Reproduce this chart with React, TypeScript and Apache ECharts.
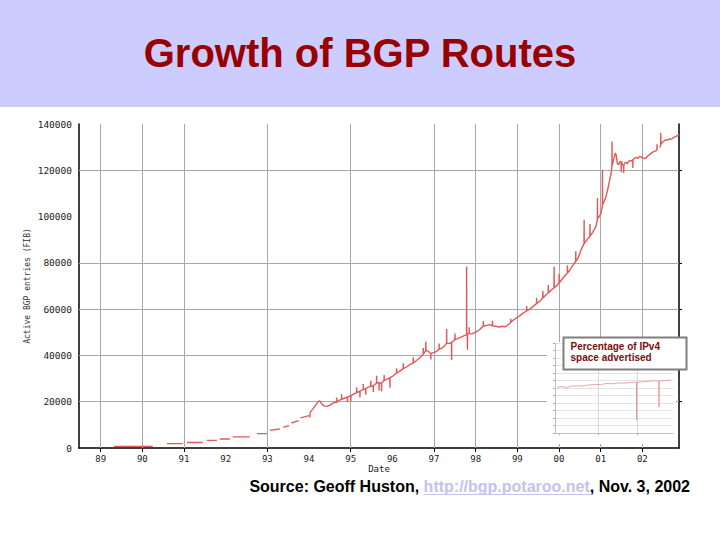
import React, { useEffect, useRef } from "react";
import * as echarts from "echarts";

const chartTitle = "Growth of BGP Routes";
const yAxisTitle = "Active BGP entries (FIB)";
const xAxisTitle = "Date";
const insetCaption = ["Percentage of IPv4", "space advertised"];
const sourceParts = ["Source: Geoff Huston, ", "http://bgp.potaroo.net", ", Nov. 3, 2002"];

const yearLabels = [1989, 1990, 1991, 1992, 1993, 1994, 1995, 1996, 1997, 1998, 1999, 2000, 2001, 2002];
const gridYears = [1989, 1990, 1991, 1993, 1995, 1997, 1998, 1999, 2000, 2001, 2002];
const gridValues = [20000, 40000, 60000, 80000, 120000];

// Active BGP entries over time (decimal year, FIB entries); null = gap in the record
const dates = [
  1989.32, 1990.25, 1990.26, 1990.59, 1990.97, 1990.98, 1991.07, 1991.45, 1991.47, 1991.55, 1991.79, 1991.81,
  1991.86, 1992.10, 1992.12, 1992.17, 1992.58, 1992.62, 1992.75, 1992.99, 1993.02, 1993.06, 1993.30, 1993.33,
  1993.38, 1993.52, 1993.55, 1993.58, 1993.75, 1993.77, 1993.80, 1994.00, 1994.01,
  1994.02, 1994.03, 1994.10, 1994.16, 1994.22, 1994.26, 1994.31, 1994.36, 1994.44, 1994.50, 1994.56, 1994.62,
  1994.66, 1994.663, 1994.666, 1994.72, 1994.78, 1994.783, 1994.786, 1994.86, 1994.92, 1994.923, 1994.926,
  1995.00, 1995.003, 1995.006, 1995.08, 1995.14, 1995.143, 1995.146, 1995.22, 1995.223, 1995.226, 1995.30,
  1995.303, 1995.306, 1995.36, 1995.363, 1995.366, 1995.42, 1995.48, 1995.483, 1995.486, 1995.54, 1995.543,
  1995.546, 1995.62, 1995.623, 1995.626, 1995.68, 1995.683, 1995.686, 1995.74, 1995.743, 1995.746, 1995.80,
  1995.803, 1995.806, 1995.88, 1995.94, 1995.943, 1995.946, 1996.02, 1996.10, 1996.103, 1996.106, 1996.18,
  1996.26, 1996.263, 1996.266, 1996.34, 1996.42, 1996.50, 1996.503, 1996.506, 1996.58, 1996.66, 1996.74,
  1996.743, 1996.746, 1996.80, 1996.803, 1996.806, 1996.86, 1996.92, 1996.923, 1996.926, 1997.00, 1997.06,
  1997.12, 1997.123, 1997.126, 1997.20, 1997.26, 1997.30, 1997.303, 1997.306, 1997.36, 1997.42, 1997.423,
  1997.426, 1997.50, 1997.503, 1997.506, 1997.58, 1997.64, 1997.70, 1997.76, 1997.78, 1997.783, 1997.786,
  1997.80, 1997.803, 1997.806, 1997.84, 1997.843, 1997.846, 1997.90, 1997.96, 1998.02, 1998.08, 1998.14,
  1998.18, 1998.183, 1998.186, 1998.26, 1998.34, 1998.40, 1998.403, 1998.406, 1998.48, 1998.56, 1998.64,
  1998.70, 1998.74, 1998.80, 1998.84, 1998.843, 1998.846, 1998.90, 1998.98, 1999.06, 1999.14, 1999.22,
  1999.223, 1999.226, 1999.30, 1999.38, 1999.46, 1999.463, 1999.466, 1999.54, 1999.61, 1999.613, 1999.616,
  1999.68, 1999.74, 1999.743, 1999.746, 1999.80, 1999.86, 1999.88, 1999.883, 1999.886, 1999.94, 2000.00,
  2000.003, 2000.006, 2000.06, 2000.13, 2000.20, 2000.203, 2000.206, 2000.25, 2000.30, 2000.35, 2000.40,
  2000.403, 2000.406, 2000.45, 2000.50, 2000.53, 2000.56, 2000.60, 2000.603, 2000.606, 2000.66, 2000.70,
  2000.74, 2000.743, 2000.746, 2000.80, 2000.85, 2000.89, 2000.92, 2000.923, 2000.926, 2000.97, 2001.01,
  2001.04, 2001.043, 2001.046, 2001.09, 2001.13, 2001.17, 2001.21, 2001.25, 2001.27, 2001.273, 2001.276,
  2001.31, 2001.35, 2001.37, 2001.40, 2001.43, 2001.46, 2001.49, 2001.493, 2001.496, 2001.52, 2001.55,
  2001.553, 2001.556, 2001.58, 2001.61, 2001.64, 2001.67, 2001.70, 2001.74, 2001.77, 2001.773, 2001.776,
  2001.81, 2001.85, 2001.89, 2001.93, 2001.97, 2002.01, 2002.05, 2002.09, 2002.13, 2002.17, 2002.21, 2002.25,
  2002.29, 2002.33, 2002.35, 2002.353, 2002.356, 2002.37, 2002.38, 2002.42, 2002.44, 2002.443, 2002.446,
  2002.49, 2002.53, 2002.57, 2002.61, 2002.65, 2002.69, 2002.73, 2002.77, 2002.81, 2002.85, 2002.88,
];
const routes = [
  700, 700, null, 1900, 1900, null, 2400, 2400, null, 3300, 3300, null,
  3900, 3900, null, 4800, 4800, null, 6200, 6200, null, 7600, 8200, null,
  9000, 9600, null, 10800, 11800, null, 13000, 14000, null,
  13200, 15500, 17000, 18500, 20000, 20300, 19000, 18200, 18000, 18500, 19200, 19800,
  19600, 21800, 19700, 20600, 21000, 23200, 21000, 21600, 22000, 19800, 22000,
  22600, 20200, 22600, 23400, 23800, 26200, 23900, 24600, 21800, 24600, 25200,
  27600, 25300, 25700, 23000, 25700, 26300, 26500, 29000, 26500, 27000, 24200,
  27000, 28000, 31200, 28000, 28300, 24800, 28300, 27800, 24500, 28200, 29200,
  31500, 29200, 29800, 30400, 26000, 30400, 31200, 32400, 34500, 32400, 33200,
  34300, 36600, 34300, 35000, 36000, 36700, 39200, 36800, 37800, 39000, 40500,
  43200, 40600, 42000, 46000, 42300, 41800, 40800, 38200, 40900, 41300, 41700,
  42600, 45200, 42700, 43300, 44200, 45200, 51400, 45300, 45200, 45600, 38000,
  45700, 46800, 49500, 46800, 47400, 47800, 48300, 48800, 49000, 78400, 49000,
  48600, 42500, 49100, 49500, 52200, 49400, 49300, 49700, 50200, 51000, 51900,
  52500, 54900, 52600, 53000, 53300, 52800, 55000, 52800, 52600, 52300, 52600,
  52400, 52700, 53600, 54200, 55800, 54300, 55200, 56200, 57200, 58300, 59200,
  61400, 59300, 60000, 61200, 62400, 64800, 62500, 63400, 64800, 67800, 64900,
  66000, 67000, 70400, 67100, 68000, 68900, 69200, 78400, 69300, 70000, 71300,
  75200, 71400, 72600, 74200, 75600, 79000, 75700, 76500, 78000, 79400, 80600,
  85000, 80700, 81800, 84000, 85600, 86800, 88200, 98600, 88300, 89600, 90600,
  91400, 96800, 91500, 93000, 94500, 96000, 98800, 108000, 99000, 100200, 101500,
  104600, 120200, 105000, 106800, 108800, 111800, 115200, 118800, 121500, 132400, 122000,
  124500, 127400, 126800, 123000, 122400, 123600, 123900, 119200, 123900, 122600, 121800,
  118800, 122200, 123200, 123400, 122800, 123900, 124200, 124000, 124600, 121000, 124600,
  125200, 125600, 125100, 126000, 125800, 125400, 125000, 125300, 126200, 126600, 127400, 127800,
  128200, 128500, 128900, 131200, 128900, 128900, null, 129800, 131000, 136100, 131200,
  132200, 132800, 133200, 133000, 133600, 133400, 133900, 134300, 134700, 135100, 135400,
];

// Inset: percentage of IPv4 space advertised
const insetYears = [
  1999.95, 2000.1, 2000.2, 2000.3, 2000.45, 2000.6, 2000.75, 2000.9, 2001.05, 2001.2, 2001.35, 2001.5,
  2001.65, 2001.8, 2001.97, 2001.975, 2001.98, 2002.15, 2002.3, 2002.45, 2002.54, 2002.545, 2002.55,
  2002.7, 2002.85,
];
const insetPercent = [
  30.5, 31.0, 30.3, 31.2, 31.5, 31.3, 32.0, 32.4, 32.2, 33.0, 32.8, 33.4,
  33.2, 33.6, 33.9, 8.7, 33.9, 34.2, 34.5, 34.8, 34.6, 17.3, 34.6,
  35.0, 35.3,
];
const insetGridYears = [2001, 2002];
const insetTickYears = [2000, 2001, 2002];

const MONO = "DejaVu Sans Mono";
const SANS = '"Liberation Sans", Arial, sans-serif';

function measure(text: string, font: string): number {
  const c = document.createElement("canvas").getContext("2d");
  if (!c) return text.length * 8;
  c.font = font;
  return c.measureText(text).width;
}

export default function App() {
  const ref = useRef<HTMLDivElement>(null);
  useEffect(() => {
    if (!ref.current) return;
    const chart = echarts.init(ref.current, undefined, { renderer: "svg" });

    const mainData = dates.map((d, i) => [d, routes[i] == null ? "-" : routes[i]]);
    const insetData = insetYears.map((d, i) => [d, insetPercent[i]]);

    const srcFont = 'bold 16px "Liberation Sans"';
    const w3 = measure(sourceParts[2], srcFont);
    const w2 = measure(sourceParts[1], srcFont);
    const srcRight = 690;
    const srcY = 486;

    const option: any = {
      animation: false,
      backgroundColor: "#ffffff",
      grid: [
        { left: 79, right: 41, top: 124, bottom: 92, show: false },
        { left: 555, right: 47, top: 343, bottom: 107, show: false },
      ],
      xAxis: [
        {
          gridIndex: 0,
          type: "value",
          min: 1988.48,
          max: 2002.88,
          position: "bottom",
          axisLine: { show: true, onZero: false, lineStyle: { color: "#000", width: 1.5 } },
          axisTick: { show: true, inside: true, length: 3, customValues: gridYears, lineStyle: { color: "#000" } },
          axisLabel: {
            customValues: yearLabels,
            formatter: (v: number) => String(Math.round(v) % 100).padStart(2, "0"),
            fontFamily: MONO,
            fontSize: 9,
            color: "#222",
            margin: 6,
          },
          splitLine: { show: false },
          name: xAxisTitle,
          nameLocation: "middle",
          nameGap: 16,
          nameMoveOverlap: false,
          nameTextStyle: { fontFamily: MONO, fontSize: 9, color: "#222" },
        },
        {
          gridIndex: 0,
          type: "value",
          min: 1988.48,
          max: 2002.88,
          position: "top",
          axisLine: { show: false },
          axisTick: { show: true, inside: true, length: 4, customValues: gridYears, lineStyle: { color: "#000" } },
          axisLabel: { show: false },
          splitLine: { show: false },
        },
        {
          gridIndex: 1,
          type: "value",
          min: 1999.9,
          max: 2002.9,
          z: 10,
          axisLine: { show: true, onZero: false, lineStyle: { color: "#c4c4c4", width: 1 } },
          axisTick: { show: true, inside: false, length: 2, customValues: insetTickYears, lineStyle: { color: "#aaa" } },
          axisLabel: { show: false },
          splitLine: { show: false },
        },
      ],
      yAxis: [
        {
          gridIndex: 0,
          type: "value",
          min: 0,
          max: 140000,
          interval: 20000,
          position: "left",
          axisLine: { show: true, lineStyle: { color: "#000", width: 1.5 } },
          axisTick: { show: true, inside: true, length: 3, customValues: gridValues, lineStyle: { color: "#000" } },
          axisLabel: {
            formatter: (v: number) => String(v),
            fontFamily: MONO,
            fontSize: 9.5,
            color: "#222",
            margin: 7,
          },
          splitLine: { show: false },
          name: yAxisTitle,
          nameLocation: "middle",
          nameRotate: 90,
          nameGap: 48,
          nameMoveOverlap: false,
          nameTextStyle: { fontFamily: MONO, fontSize: 8, color: "#333" },
        },
        {
          gridIndex: 0,
          type: "value",
          min: 0,
          max: 140000,
          interval: 20000,
          position: "right",
          axisLine: { show: true, lineStyle: { color: "#000", width: 1.5 } },
          axisTick: { show: true, inside: false, length: 3, customValues: gridValues, lineStyle: { color: "#000" } },
          axisLabel: { show: false },
          splitLine: { show: false },
        },
        {
          gridIndex: 1,
          type: "value",
          min: 0,
          max: 60,
          interval: 5,
          z: 10,
          axisLine: { show: true, lineStyle: { color: "#c4c4c4", width: 1 } },
          axisTick: { show: true, length: 2, lineStyle: { color: "#aaa" } },
          axisLabel: { show: false },
          splitLine: { show: true, lineStyle: { color: "#e4e4e4", width: 1 } },
        },
      ],
      series: [
        {
          name: "gridlines",
          type: "line",
          xAxisIndex: 0,
          yAxisIndex: 0,
          data: [[1989, 0]],
          showSymbol: false,
          lineStyle: { opacity: 0 },
          silent: true,
          z: 1,
          markLine: {
            z: 1,
            silent: true,
            symbol: ["none", "none"],
            label: { show: false },
            lineStyle: { color: "#a8a8a8", width: 1, type: "solid" },
            emphasis: { disabled: true },
            data: [
              ...gridYears.map((x) => ({ xAxis: x })),
              ...gridValues.map((y) => ({ yAxis: y })),
            ],
          },
        },
        {
          name: "BGP entries",
          type: "line",
          xAxisIndex: 0,
          yAxisIndex: 0,
          data: mainData,
          showSymbol: false,
          connectNulls: false,
          lineStyle: { color: "#e35858", width: 1.4 },
          silent: true,
          z: 3,
        },
        {
          name: "IPv4 %",
          type: "line",
          xAxisIndex: 2,
          yAxisIndex: 2,
          data: insetData,
          showSymbol: false,
          lineStyle: { color: "#e39090", width: 0.8 },
          silent: true,
          z: 12,
          markLine: {
            z: 11,
            silent: true,
            symbol: ["none", "none"],
            label: { show: false },
            lineStyle: { color: "#d8d8d8", width: 1, type: "solid" },
            emphasis: { disabled: true },
            data: insetGridYears.map((x) => ({ xAxis: x })),
          },
        },
      ],
      graphic: [
        {
          type: "rect",
          shape: { x: 0, y: 0, width: 720, height: 107 },
          style: { fill: "#ccccff" },
          z: 0,
          silent: true,
        },
        {
          type: "text",
          x: 360,
          y: 53,
          style: {
            text: chartTitle,
            fill: "#990000",
            font: `bold 40px ${SANS}`,
            textAlign: "center",
            textVerticalAlign: "middle",
          },
          z: 1,
          silent: true,
        },
        {
          type: "rect",
          shape: { x: 547, y: 342, width: 129, height: 102 },
          style: { fill: "#ffffff" },
          z: 5,
          silent: true,
        },
        {
          type: "rect",
          shape: { x: 563.5, y: 337.5, width: 123, height: 32 },
          style: { fill: "#ffffff", stroke: "#7f7f7f", lineWidth: 2 },
          z: 20,
          silent: true,
        },
        {
          type: "text",
          x: 570.5,
          y: 340.5,
          style: {
            text: insetCaption.join("\n"),
            fill: "#7a0e0e",
            font: `bold 10px ${SANS}`,
            lineHeight: 11.5,
            textAlign: "left",
            textVerticalAlign: "top",
          },
          z: 21,
          silent: true,
        },
        {
          type: "text",
          x: srcRight - w3 - w2,
          y: srcY,
          style: {
            text: sourceParts[0],
            fill: "#000",
            font: `bold 16px ${SANS}`,
            textAlign: "right",
            textVerticalAlign: "middle",
          },
          z: 1,
          silent: true,
        },
        {
          type: "text",
          x: srcRight - w3,
          y: srcY,
          style: {
            text: sourceParts[1],
            fill: "#c2c2f2",
            font: `bold 16px ${SANS}`,
            textAlign: "right",
            textVerticalAlign: "middle",
          },
          z: 1,
          silent: true,
        },
        {
          type: "line",
          shape: { x1: srcRight - w3 - w2, y1: 494.5, x2: srcRight - w3, y2: 494.5 },
          style: { stroke: "#c2c2f2", lineWidth: 1 },
          z: 1,
          silent: true,
        },
        {
          type: "text",
          x: srcRight,
          y: srcY,
          style: {
            text: sourceParts[2],
            fill: "#000",
            font: `bold 16px ${SANS}`,
            textAlign: "right",
            textVerticalAlign: "middle",
          },
          z: 1,
          silent: true,
        },
      ],
    };

    chart.setOption(option);
    return () => chart.dispose();
  }, []);

  return (
    <div
      ref={ref}
      style={{ position: "absolute", left: 0, top: 0, width: 720, height: 540 }}
    />
  );
}
